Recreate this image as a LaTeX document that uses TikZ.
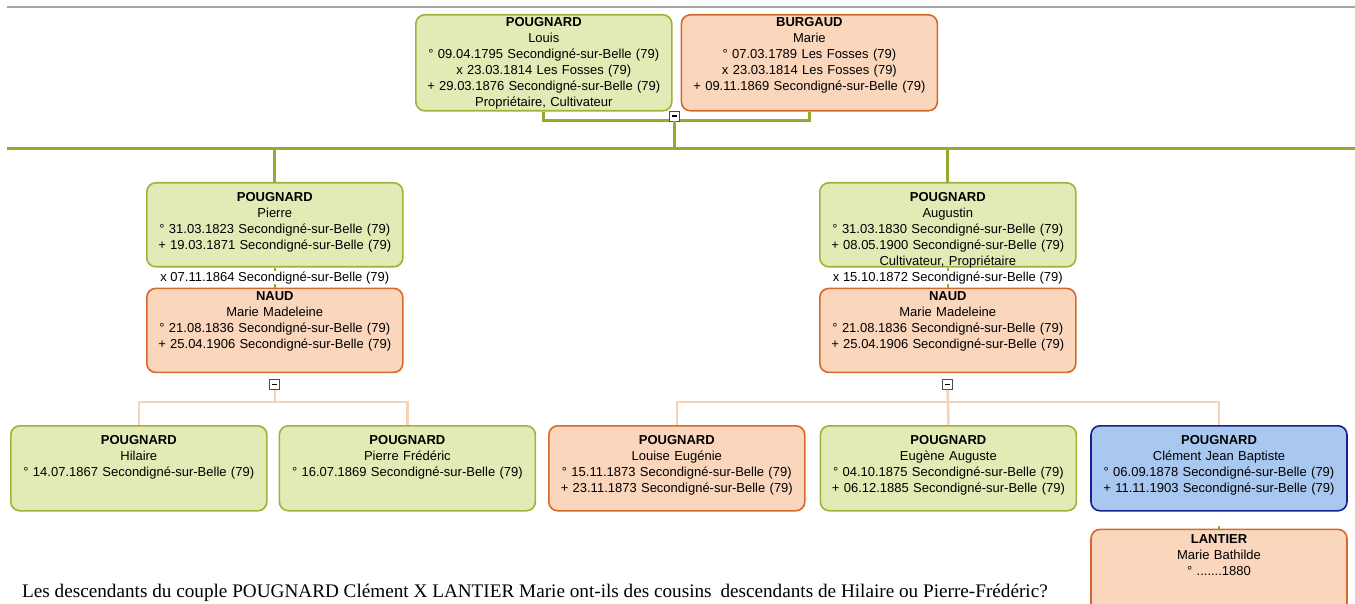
\documentclass[tikz,border=0pt]{standalone}
\usepackage{fontspec}
\setmainfont{Liberation Sans}
\newfontfamily\legendefont{Liberation Serif}
\usepackage{xcolor}
\usepackage{tikz}
\usetikzlibrary{positioning}
\usetikzlibrary{shapes,arrows,positioning,fit,calc}
\definecolor{vertclair}{HTML}{E2EAB6}
\definecolor{vertfonce}{HTML}{A2B03C}
\definecolor{peche}{HTML}{FAD6BC}
\definecolor{orangefonce}{HTML}{D4692E}
\definecolor{bleuclair}{HTML}{A9C8F0}
\definecolor{bleufonce}{HTML}{16208E}
\definecolor{olive}{HTML}{9AA832}
\definecolor{pechelien}{HTML}{F8D2B4}
\tikzstyle{fiche} = [rectangle, rounded corners=9pt, line width=1.6pt,
text width=250pt, inner xsep=3pt, inner ysep=0pt, align=center,
font=\fontsize{13}{16}\selectfont, text height=19pt, text depth=65pt]
\tikzstyle{serre} = [text height=12pt, text depth=72pt]
\tikzstyle{homme} = [fiche, fill=vertclair, draw=vertfonce]
\tikzstyle{femme} = [fiche, fill=peche, draw=orangefonce]
\tikzstyle{choisi} = [fiche, fill=bleuclair, draw=bleufonce]
\tikzstyle{moins} = [rectangle, draw=black!70, fill=white, line width=0.8pt,
minimum size=10pt, inner sep=0pt]
\tikzstyle{mariage} = [fill=white, inner sep=0pt, font=\fontsize{13}{14}\selectfont]
\tikzstyle{lien} = [draw, olive, line width=3pt]
\tikzstyle{enfant} = [draw, pechelien, line width=2.5pt]
\tikzstyle{conjoint} = [draw, olive!80!green, line width=2pt]
\begin{document}
\begin{tikzpicture}[x=1pt, y=-1pt]
  \useasboundingbox (0,0) rectangle (1355,604);
  \draw[black!35, line width=1.2pt] (7,7) -- (1355,7);

          % Place nodes
    \node [homme, serre, text depth=84pt, anchor=north west] (louis) at (415,14)
      {\textbf{POUGNARD}\\ Louis\\ ° 09.04.1795 Secondigné-sur-Belle (79)\\ x 23.03.1814 Les Fosses (79)\\ + 29.03.1876 Secondigné-sur-Belle (79)\\ Propriétaire, Cultivateur};
    \node [femme, serre, text depth=84pt, right=8pt of louis] (burgaud)
      {\textbf{BURGAUD}\\ Marie\\ ° 07.03.1789 Les Fosses (79)\\ x 23.03.1814 Les Fosses (79)\\ + 09.11.1869 Secondigné-sur-Belle (79)};

    \node [homme, anchor=north west] (pierre) at (146,182)
      {\textbf{POUGNARD}\\ Pierre\\ ° 31.03.1823 Secondigné-sur-Belle (79)\\ + 19.03.1871 Secondigné-sur-Belle (79)};
    \node [femme, serre, below=20pt of pierre] (naud1)
      {\textbf{NAUD}\\ Marie Madeleine\\ ° 21.08.1836 Secondigné-sur-Belle (79)\\ + 25.04.1906 Secondigné-sur-Belle (79)};
    \node [moins, below=6pt of naud1] (m1) {\rule{5pt}{1.2pt}};

    \node [homme, anchor=north west] (augustin) at (819,182)
      {\textbf{POUGNARD}\\ Augustin\\ ° 31.03.1830 Secondigné-sur-Belle (79)\\ + 08.05.1900 Secondigné-sur-Belle (79)\\ Cultivateur, Propriétaire};
    \node [femme, serre, below=20pt of augustin] (naud2)
      {\textbf{NAUD}\\ Marie Madeleine\\ ° 21.08.1836 Secondigné-sur-Belle (79)\\ + 25.04.1906 Secondigné-sur-Belle (79)};
    \node [moins, below=6pt of naud2] (m2) {\rule{5pt}{1.2pt}};

    \node [homme, anchor=north west, text depth=66pt] (hilaire) at (10,425)
      {\textbf{POUGNARD}\\ Hilaire\\ ° 14.07.1867 Secondigné-sur-Belle (79)};
    \node [homme, text depth=66pt, right=11pt of hilaire] (pierrefr)
      {\textbf{POUGNARD}\\ Pierre Frédéric\\ ° 16.07.1869 Secondigné-sur-Belle (79)};
    \node [femme, anchor=north west, text depth=66pt] (louise) at (548,425)
      {\textbf{POUGNARD}\\ Louise Eugénie\\ ° 15.11.1873 Secondigné-sur-Belle (79)\\ + 23.11.1873 Secondigné-sur-Belle (79)};
    \node [homme, text depth=66pt, right=14pt of louise] (eugene)
      {\textbf{POUGNARD}\\ Eugène Auguste\\ ° 04.10.1875 Secondigné-sur-Belle (79)\\ + 06.12.1885 Secondigné-sur-Belle (79)};
    \node [choisi, text depth=66pt, right=13pt of eugene] (clement)
      {\textbf{POUGNARD}\\ Clément Jean Baptiste\\ ° 06.09.1878 Secondigné-sur-Belle (79)\\ + 11.11.1903 Secondigné-sur-Belle (79)};
    \node [femme, text height=14pt, text depth=70pt, below=17pt of clement] (lantier)
      {\textbf{LANTIER}\\ Marie Bathilde\\ ° .......1880};

    \node [anchor=base west, inner sep=0pt, font=\legendefont\fontsize{19.2}{21}\selectfont] (question) at (22,597)
      {Les descendants du couple POUGNARD Clément X LANTIER Marie ont-ils des cousins\hspace{4pt} descendants de Hilaire ou Pierre-Frédéric?};

    % edges
         \coordinate (g) at (7,149);
         \coordinate (d) at (1355,149);
         \coordinate [below=12pt of m1] (e1);
         \coordinate [below=12pt of m2] (e2);
         \path [lien] (louis.south) -- ++(0,-9pt) -| (burgaud.south);
         \node [moins] (m0) at (674,116) {\rule{5pt}{1.2pt}};
         \path [lien] (m0.south) -- (m0.south |- g);
         \path [lien] (g) -- (d);
         \path [lien] (pierre.north) -- (pierre.north |- g);
         \path [lien] (augustin.north) -- (augustin.north |- g);
         \path [conjoint] (pierre.south) -- (naud1.north);
         \path [conjoint] (augustin.south) -- (naud2.north);
         \path [conjoint] (lantier.north) -- ++(0,3pt);
         \node [mariage] (x1) at ($(pierre.south)!0.5!(naud1.north)$) {x 07.11.1864 Secondigné-sur-Belle (79)};
         \node [mariage] (x2) at ($(augustin.south)!0.5!(naud2.north)$) {x 15.10.1872 Secondigné-sur-Belle (79)};
         \path [enfant] (m1.south) -- (e1);
         \path [enfant] (hilaire.north) |- (e1) -| (pierrefr.north);
         \path [enfant] (m2.south) -- (eugene.north);
         \path [enfant] (louise.north) |- (e2) -| (clement.north);
  \end{tikzpicture}
\end{document}
